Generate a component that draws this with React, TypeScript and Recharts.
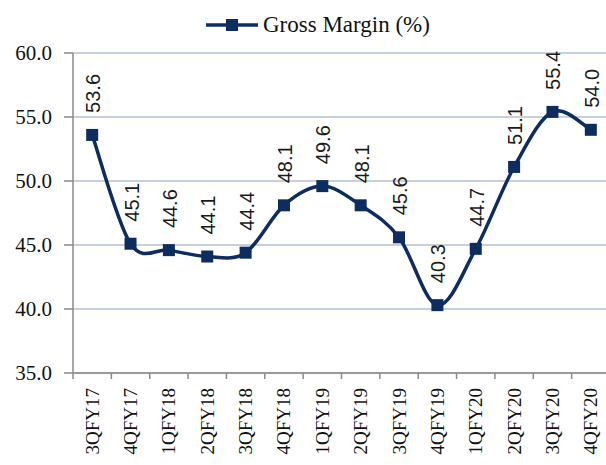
import { CartesianGrid, LabelList, Legend, Line, LineChart, XAxis, YAxis } from "recharts";

const QUARTERS = [
  "3QFY17", "4QFY17", "1QFY18", "2QFY18", "3QFY18", "4QFY18", "1QFY19",
  "2QFY19", "3QFY19", "4QFY19", "1QFY20", "2QFY20", "3QFY20", "4QFY20",
];
const GROSS_MARGIN = [53.6, 45.1, 44.6, 44.1, 44.4, 48.1, 49.6, 48.1, 45.6, 40.3, 44.7, 51.1, 55.4, 54.0];
const Y_TICKS = [35, 40, 45, 50, 55, 60];
const SERIES_NAME = "Gross Margin (%)";

const data = QUARTERS.map((quarter, i) => ({ quarter, gm: GROSS_MARGIN[i] }));

const NAVY = "#0c2d5e";
const GRID = "#b3c2d2";
const AXIS = "#8a8a8a";
const SERIF = "'Liberation Serif', 'Times New Roman', serif";
const SANS = "'Liberation Sans', Arial, sans-serif";

const CHART_W = 610;
const CHART_H = 465;
const Y_W = 73;
const BAND = (CHART_W - Y_W) / QUARTERS.length;

// excel-ish smoothed line (catmull-rom through the points)
function smoothCurve(context: any) {
  let pts: number[][] = [];
  return {
    areaStart() {},
    areaEnd() {},
    lineStart() {
      pts = [];
    },
    point(x: number, y: number) {
      pts.push([+x, +y]);
    },
    lineEnd() {
      if (!pts.length) return;
      context.moveTo(pts[0][0], pts[0][1]);
      for (let i = 0; i < pts.length - 1; i++) {
        const p0 = pts[i - 1] || pts[i];
        const p1 = pts[i];
        const p2 = pts[i + 1];
        const p3 = pts[i + 2] || p2;
        context.bezierCurveTo(
          p1[0] + (p2[0] - p0[0]) / 6,
          p1[1] + (p2[1] - p0[1]) / 6,
          p2[0] - (p3[0] - p1[0]) / 6,
          p2[1] - (p3[1] - p1[1]) / 6,
          p2[0],
          p2[1]
        );
      }
    },
  };
}

function SquareDot(props: any) {
  const { cx, cy } = props;
  if (cx == null || cy == null) return null;
  return <rect x={cx - 6} y={cy - 6} width={12} height={12} fill={NAVY} />;
}

function QuarterTick(props: any) {
  const { x, y, payload, index } = props;
  const axisY = y - 10;
  return (
    <g>
      <line x1={x - BAND / 2} x2={x - BAND / 2} y1={axisY} y2={axisY + 6} stroke={AXIS} strokeWidth={1.5} />
      {index === QUARTERS.length - 1 && (
        <line x1={x + BAND / 2} x2={x + BAND / 2} y1={axisY} y2={axisY + 6} stroke={AXIS} strokeWidth={1.5} />
      )}
      <text
        x={x}
        y={axisY + 15}
        transform={`rotate(-90 ${x} ${axisY + 15})`}
        textAnchor="end"
        dominantBaseline="central"
        fontFamily={SERIF}
        fontSize={19}
        fill="#111"
      >
        {payload.value}
      </text>
    </g>
  );
}

function ValueLabel(props: any) {
  const { x, y, value } = props;
  if (x == null || y == null) return null;
  const ly = y - 22;
  return (
    <text
      x={x + 1}
      y={ly}
      transform={`rotate(-90 ${x + 1} ${ly})`}
      textAnchor="start"
      dominantBaseline="central"
      fontFamily={SANS}
      fontSize={20}
      fill="#1a1a1a"
    >
      {Number(value).toFixed(1)}
    </text>
  );
}

function LegendBox() {
  return (
    <div style={{ display: "flex", alignItems: "center", height: 30 }}>
      <svg width={54} height={14} style={{ marginRight: 3 }}>
        <line x1={0} x2={52} y1={7} y2={7} stroke={NAVY} strokeWidth={3.5} />
        <rect x={20} y={1} width={12} height={12} fill={NAVY} />
      </svg>
      <span style={{ fontFamily: SERIF, fontSize: 23, color: "#111", whiteSpace: "nowrap" }}>{SERIES_NAME}</span>
    </div>
  );
}

export default function App() {
  return (
    <div style={{ position: "absolute", left: 0, top: 0, width: 606, height: 465, overflow: "hidden", background: "#fff" }}>
      <LineChart width={CHART_W} height={CHART_H} data={data} margin={{ top: 23, right: 0, bottom: 0, left: 0 }}>
        <Legend
          verticalAlign="top"
          content={() => <LegendBox />}
          wrapperStyle={{ top: 10, left: 206, width: "auto", height: 30 }}
        />
        <CartesianGrid stroke={GRID} strokeWidth={1.5} vertical={false} />
        <XAxis
          dataKey="quarter"
          scale="band"
          height={92}
          interval={0}
          tickLine={false}
          axisLine={{ stroke: AXIS, strokeWidth: 1.5 }}
          tick={<QuarterTick />}
          tickMargin={0}
          tickSize={10}
        />
        <YAxis
          width={Y_W}
          domain={[35, 60]}
          ticks={Y_TICKS}
          interval={0}
          tickFormatter={(v: number) => v.toFixed(1)}
          tickSize={9}
          tickMargin={12}
          tickLine={{ stroke: AXIS, strokeWidth: 1.5 }}
          axisLine={{ stroke: AXIS, strokeWidth: 1.5 }}
          tick={{ fontFamily: SERIF, fontSize: 21, fill: "#111" }}
        />
        <Line
          type={smoothCurve as any}
          dataKey="gm"
          name={SERIES_NAME}
          stroke={NAVY}
          strokeWidth={3.5}
          dot={<SquareDot />}
          activeDot={false}
          isAnimationActive={false}
        >
          <LabelList dataKey="gm" content={<ValueLabel />} />
        </Line>
      </LineChart>
    </div>
  );
}
